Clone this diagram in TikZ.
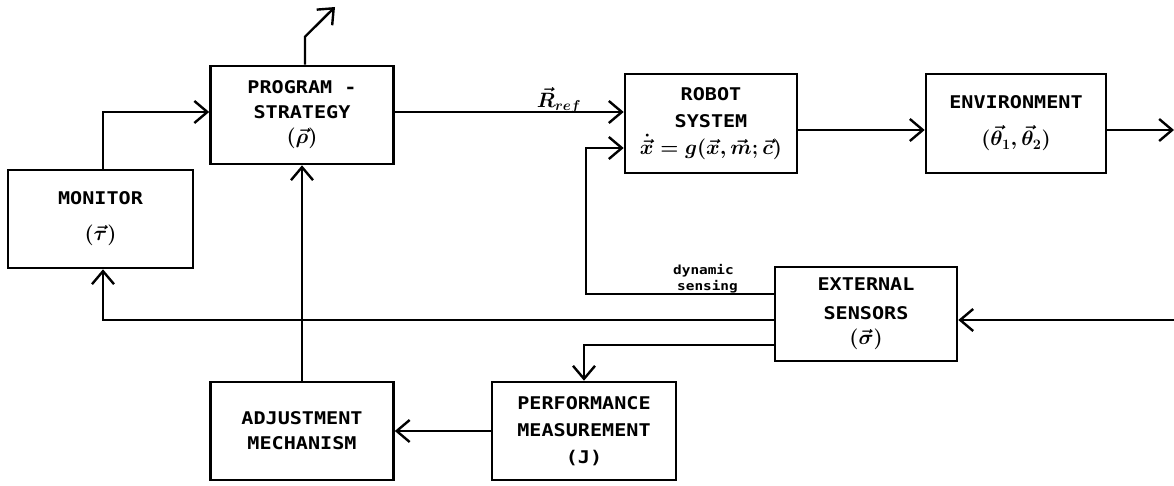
\documentclass[tikz,border=0pt]{standalone}
\usepackage{fontspec}
\usepackage{amsmath}
\newfontfamily\boxfont[FakeStretch=1.15]{DejaVu Sans Mono}
\usetikzlibrary{arrows.meta}
\newcommand\bmth[1]{{\fontsize{21}{25}\selectfont\boldmath$#1$}}
\tikzset{
  blk/.style={draw, line width=2.6pt, inner sep=0pt, align=center,
    font=\boxfont\bfseries\fontsize{17.5}{25}\selectfont},
  arr/.style={-{Straight Barb[length=13pt,width=22pt]}, line width=2.4pt},
  dyn/.style={font=\boxfont\bfseries\fontsize{12.5}{15}\selectfont, inner sep=0pt}
}
\begin{document}
\begin{tikzpicture}[x=1pt,y=-1pt]
\useasboundingbox (0,0) rectangle (1174,486);
% boxes
\node[blk, minimum width=183pt, minimum height=98pt] (prog) at (302,115) {PROGRAM -\\STRATEGY\\\bmth{(\vec{\rho})}};
\node[blk, minimum width=185pt, minimum height=98pt] (mon) at (100.5,219) {MONITOR\\[11pt]\bmth{(\vec{\tau})}};
\node[blk, minimum width=172pt, minimum height=99pt] (robot) at (711,123.5) {ROBOT\\[2pt]SYSTEM\\[2pt]\bmth{\dot{\vec{x}}=g(\vec{x},\vec{m};\vec{c})}};
\node[blk, minimum width=180pt, minimum height=99pt] (env) at (1016,123.5) {ENVIRONMENT\\[12pt]\bmth{(\vec{\theta}_1,\vec{\theta}_2)}};
\node[blk, minimum width=182pt, minimum height=94pt] (sens) at (866,314) {EXTERNAL\\[4pt]SENSORS\\\bmth{(\vec{\sigma})}};
\node[blk, minimum width=184pt, minimum height=98pt] (perf) at (584,431) {PERFORMANCE\\[2pt]MEASUREMENT\\[2pt](J)};
\node[blk, minimum width=183pt, minimum height=98pt] (adj) at (302,431) {ADJUSTMENT\\MECHANISM};
% labels
\node[inner sep=0pt] (rref) at (559,100) {\bmth{\vec{R}_{ref}}};
\node[dyn, anchor=base west] (dyn1) at (673,274) {dynamic};
\node[dyn, anchor=base west] (dyn2) at (677,290) {sensing};
% free ends
\coordinate (topend) at (335,7);
\coordinate (outR) at (1174,130);
\coordinate (inR) at (1174,320);
\coordinate (dsk) at (586,148);
% connectors
\draw[arr] ([xshift=3pt]prog.north) -- ++(0,-28) -- (topend);
\draw[arr] ([xshift=2.5pt]mon.north) |- ([yshift=3pt]prog.west);
\draw[arr] ([yshift=3pt]prog.east) -- ([yshift=11.5pt]robot.west);
\draw[arr] ([yshift=-6.5pt]robot.east) -- ([yshift=-6.5pt]env.west);
\draw[arr] ([yshift=-6.5pt]env.east) -- (outR);
\draw[arr] ([yshift=20pt]sens.west) -| (dsk) -- ([yshift=-24.5pt]robot.west);
\draw[arr] ([yshift=-6pt]sens.west) -| ([xshift=2.5pt]mon.south);
\draw[arr] ([yshift=-31pt]sens.west) -| (perf.north);
\draw[arr] (inR) -- ([yshift=-6pt]sens.east);
\draw[arr] (perf.west) -- (adj.east);
\draw[arr] (adj.north) -- (prog.south);
\end{tikzpicture}
\end{document}
